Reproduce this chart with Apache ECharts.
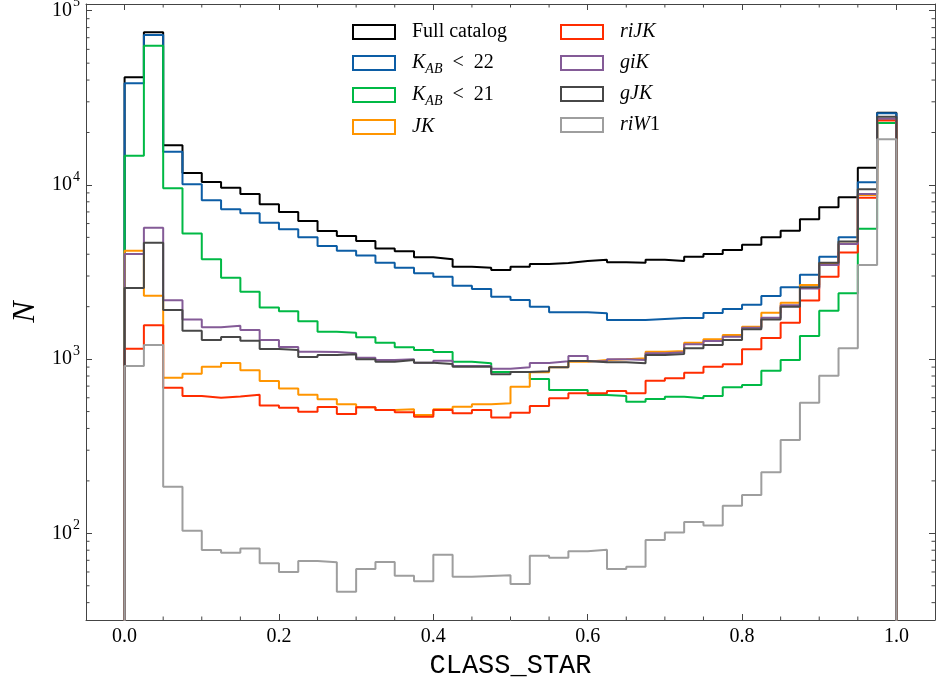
<!DOCTYPE html>
<html><head><meta charset="utf-8">
<script src="https://cdn.jsdelivr.net/npm/echarts@6/dist/echarts.min.js"></script>
<style>html,body{margin:0;padding:0;background:#fff}#c{width:938px;height:684px}</style>
</head><body><div id="c"></div>
<script>
// ---- data ----
const binWidth = 0.025;
const nBins = 40;
const seriesNames = ['Full catalog', 'K_AB < 22', 'K_AB < 21', 'JK', 'riJK', 'giK', 'gJK', 'riW1'];
const legendRich = ['{r|Full catalog}', '{i|K}{s|AB}{r|  <  22}', '{i|K}{s|AB}{r|  <  21}', '{i|JK}', '{i|riJK}', '{i|giK}', '{i|gJK}', '{i|riW}{r|1}'];
const seriesColors = ['#000000', '#0C5DA5', '#00B945', '#FF9500', '#FF2C00', '#845B97', '#474747', '#9e9e9e'];

const fullCatalog = [41500, 75200, 16900, 11700, 10400, 9640, 8870, 7740, 6990, 6200, 5430, 5090, 4760, 4320, 4155, 3840, 3740, 3390, 3346, 3247, 3390, 3516, 3565, 3660, 3720, 3600, 3575, 3720, 3660, 3870, 4010, 4230, 4540, 5000, 5460, 6350, 7440, 8490, 12560, 26000];
const kab22 = [38300, 72600, 15500, 10100, 8170, 7250, 6880, 6070, 5560, 5000, 4460, 4190, 3940, 3575, 3346, 3110, 2974, 2638, 2525, 2280, 2183, 1998, 1856, 1856, 1832, 1675, 1675, 1698, 1720, 1720, 1840, 1939, 2052, 2301, 2582, 3053, 3875, 5003, 10350, 25800];
const kab21 = [14700, 63000, 9560, 5270, 3740, 2930, 2440, 1980, 1880, 1650, 1435, 1418, 1334, 1242, 1169, 1128, 1098, 966, 946, 843, 843, 769, 665, 665, 622, 615, 570, 591, 609, 596, 614, 689, 710, 857, 988, 1358, 1896, 2387, 5610, 22700];
const jk = [4190, 2310, 781, 824, 904, 950, 863, 748, 679, 625, 588, 550, 529, 510, 515, 478, 515, 533, 550, 558, 695, 840, 898, 966, 988, 998, 1011, 1104, 1114, 1242, 1300, 1375, 1535, 1846, 2108, 2660, 3545, 4600, 8750, 23800];
const rijk = [1148, 1563, 685, 614, 600, 611, 625, 541, 526, 499, 531, 484, 529, 510, 495, 467, 510, 489, 510, 463, 492, 538, 596, 636, 636, 656, 636, 751, 776, 836, 904, 933, 1138, 1321, 1617, 2170, 2974, 4100, 8450, 23400];
const gik = [4010, 5680, 2180, 1690, 1523, 1555, 1470, 1288, 1173, 1103, 1099, 1080, 1019, 988, 998, 953, 979, 913, 913, 881, 898, 950, 971, 1042, 971, 998, 988, 1080, 1094, 1216, 1271, 1345, 1514, 1730, 2036, 2547, 3470, 4580, 8870, 24000];
const gjk = [2560, 4660, 1914, 1455, 1288, 1340, 1277, 1143, 1128, 1028, 1056, 1066, 998, 966, 988, 953, 937, 904, 904, 818, 843, 851, 898, 975, 959, 959, 946, 1056, 1069, 1153, 1205, 1288, 1483, 1690, 2000, 2582, 3575, 4740, 9440, 24600];
const riw1 = [912, 1205, 185, 103.5, 80.2, 77.4, 81.7, 67.3, 60, 69.4, 68.2, 46.2, 62.4, 68.5, 57.1, 53.0, 75.4, 56.4, 56.9, 57.4, 51.2, 74.4, 72.4, 79.0, 80.5, 62.4, 64.3, 91.5, 101, 116, 111, 144, 166, 224, 343, 562, 804, 1153, 3470, 18300];
const seriesValues = [fullCatalog, kab22, kab21, jk, rijk, gik, gjk, riw1];

const xTickValues = [0, 0.2, 0.4, 0.6, 0.8, 1.0];
const xTickLabels = ['0.0', '0.2', '0.4', '0.6', '0.8', '1.0'];
const yTickValues = [100, 1000, 10000, 100000];
const yTickSup = ['2', '3', '4', '5'];

// ---- layout / style ----
const xMin = -0.05, xMax = 1.05;
const yMin = 31.8, yMax = 109300;
const floorVal = 1;
const axisColor = '#444';
const serif = 'Liberation Serif';
const majorLen = 6, minorLen = 3.5;

function stepData(vals) {
  const pts = [[0, floorVal]];
  vals.forEach((v, i) => pts.push([i * binWidth, v]));
  pts.push([nBins * binWidth, vals[vals.length - 1]]);
  pts.push([nBins * binWidth, floorVal]);
  return pts;
}

const minorSpecs = [];
for (let k = 1; k <= 20; k++) { if (k % 4 !== 0) minorSpecs.push([k * 0.05, yMin, 0]); }
for (let e = 1; e <= 4; e++) for (let m = 2; m <= 9; m++) {
  const v = m * Math.pow(10, e);
  if (v > yMin && v < yMax) minorSpecs.push([xMin, v, 1]);
}

const lineSeries = seriesNames.map((name, i) => ({
  name: name, type: 'line', step: 'end', data: stepData(seriesValues[i]),
  showSymbol: false, symbol: 'none', clip: true, silent: true,
  lineStyle: { color: seriesColors[i], width: 2 },
  itemStyle: { color: seriesColors[i] },
  z: 2 + i, animation: false
}));

const tickSeries = {
  type: 'custom', silent: true, clip: false, z: 20, animation: false,
  data: minorSpecs,
  renderItem: function (params, api) {
    const t = api.value(2);
    const st = { stroke: axisColor, lineWidth: 1 };
    if (t === 0) {
      const pb = api.coord([api.value(0), yMin]);
      const pt = api.coord([api.value(0), yMax]);
      return { type: 'group', children: [
        { type: 'line', shape: { x1: pb[0], y1: pb[1], x2: pb[0], y2: pb[1] - minorLen }, style: st },
        { type: 'line', shape: { x1: pt[0], y1: pt[1], x2: pt[0], y2: pt[1] + minorLen }, style: st }
      ]};
    } else {
      const pl = api.coord([xMin, api.value(1)]);
      const pr = api.coord([xMax, api.value(1)]);
      return { type: 'group', children: [
        { type: 'line', shape: { x1: pl[0], y1: pl[1], x2: pl[0] + minorLen, y2: pl[1] }, style: st },
        { type: 'line', shape: { x1: pr[0], y1: pr[1], x2: pr[0] - minorLen, y2: pr[1] }, style: st }
      ]};
    }
  }
};

function xLabel(v) {
  for (let i = 0; i < xTickValues.length; i++) if (Math.abs(v - xTickValues[i]) < 1e-6) return xTickLabels[i];
  return '';
}
function yLabel(v) {
  for (let i = 0; i < yTickValues.length; i++) if (Math.abs(v / yTickValues[i] - 1) < 1e-6) return '{b|10}{p|' + yTickSup[i] + '}';
  return '';
}

const baseX = {
  type: 'value', min: xMin, max: xMax, splitNumber: 5,
  axisLine: { show: true, onZero: false, lineStyle: { color: axisColor, width: 1 } },
  axisTick: { show: true, inside: true, length: majorLen, lineStyle: { color: axisColor, width: 1 } },
  minorTick: { show: false }, splitLine: { show: false }
};
const baseY = {
  type: 'log', logBase: 10, min: yMin, max: yMax,
  axisLine: { show: true, onZero: false, lineStyle: { color: axisColor, width: 1 } },
  axisTick: { show: true, inside: true, length: majorLen, lineStyle: { color: axisColor, width: 1 } },
  minorTick: { show: false }, splitLine: { show: false }
};

const legendText = {
  fontFamily: serif, fontSize: 20, color: '#000', lineHeight: 24, padding: [0, 0, 0, 12],
  rich: {
    r: { fontFamily: serif, fontSize: 20, lineHeight: 24 },
    i: { fontFamily: serif, fontSize: 20, fontStyle: 'italic', lineHeight: 24 },
    s: { fontFamily: serif, fontSize: 14, fontStyle: 'italic', height: 12, lineHeight: 24, padding: [12, 0, 0, 0], verticalAlign: 'bottom' }
  }
};
function legendBlock(idxs, left) {
  return {
    show: true, orient: 'vertical', left: left, top: 20, padding: 0, itemGap: 7,
    itemWidth: 42, itemHeight: 14, icon: 'rect', selectedMode: false,
    data: idxs.map(i => ({ name: seriesNames[i], icon: 'rect',
      itemStyle: { color: 'transparent', borderColor: seriesColors[i], borderWidth: 2 } })),
    formatter: function (name) { return legendRich[seriesNames.indexOf(name)]; },
    textStyle: legendText
  };
}

const option = {
  animation: false,
  backgroundColor: '#fff',
  grid: { left: 86, right: 3, top: 4, bottom: 64, containLabel: false, outerBoundsMode: 'none' },
  legend: [legendBlock([0, 1, 2, 3], 352), legendBlock([4, 5, 6, 7], 560)],
  xAxis: [
    Object.assign({}, baseX, {
      position: 'bottom',
      name: 'CLASS_STAR', nameLocation: 'middle', nameGap: 30,
      nameTextStyle: { fontFamily: 'Liberation Mono', fontSize: 27, color: '#000' },
      axisLabel: { show: true, margin: 7, formatter: xLabel, fontFamily: serif, fontSize: 20, color: '#000', showMinLabel: true, showMaxLabel: true, hideOverlap: false }
    }),
    Object.assign({}, baseX, { position: 'top', axisLabel: { show: false } })
  ],
  yAxis: [
    Object.assign({}, baseY, {
      position: 'left',
      name: 'N', nameLocation: 'middle', nameGap: 44, nameRotate: 90,
      nameTextStyle: { fontFamily: serif, fontStyle: 'italic', fontSize: 32, color: '#000' },
      axisLabel: { show: true, margin: 6, formatter: yLabel, color: '#000', hideOverlap: false,
        rich: {
          b: { fontFamily: serif, fontSize: 20, verticalAlign: 'middle' },
          p: { fontFamily: serif, fontSize: 14, height: 12, padding: [0, 0, 16, 1], verticalAlign: 'top' }
        } }
    }),
    Object.assign({}, baseY, { position: 'right', axisLabel: { show: false } })
  ],
  series: lineSeries.concat([tickSeries])
};

const chart = echarts.init(document.getElementById('c'), null, { renderer: 'canvas' });
chart.setOption(option);
</script></body></html>
